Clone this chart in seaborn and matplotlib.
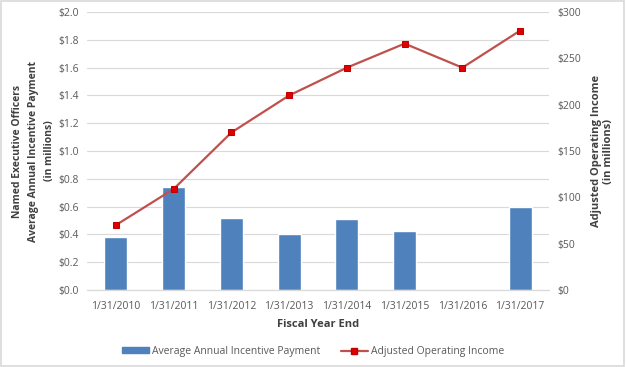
import numpy as np
import matplotlib
matplotlib.use('Agg')
import matplotlib.pyplot as plt
import seaborn as sns
from matplotlib.lines import Line2D
from matplotlib.patches import Patch
from matplotlib.ticker import FuncFormatter, MultipleLocator

# data
fiscal_years = ['1/31/2010', '1/31/2011', '1/31/2012', '1/31/2013',
                '1/31/2014', '1/31/2015', '1/31/2016', '1/31/2017']
incentive_payment = [0.38, 0.74, 0.52, 0.40, 0.51, 0.425, 0.0, 0.60]   # $ millions
operating_income = [70, 109, 170, 210, 240, 266, 240, 280]             # $ millions

sns.set_style('white')
plt.rcParams['font.family'] = ['Open Sans', 'DejaVu Sans']

bar_color = '#4F81BD'
line_color = '#C0504D'
tick_color = '#595959'

fig = plt.figure(figsize=(6.26, 3.67), dpi=100)
ax = fig.add_axes([0.139, 0.21, 0.738, 0.757])

sns.barplot(x=fiscal_years, y=incentive_payment, color=bar_color, width=0.4,
            saturation=1, ax=ax, zorder=2)
ax.set_ylim(0, 2.0)
ax.set_xlim(-0.5, len(fiscal_years) - 0.5)
ax.yaxis.set_major_locator(MultipleLocator(0.2))
ax.yaxis.set_major_formatter(FuncFormatter(lambda v, p: f'${v:.1f}'))
ax.grid(axis='y', color='#D9D9D9', linewidth=0.8, zorder=0)
ax.set_axisbelow(True)

ax2 = ax.twinx()
sns.lineplot(x=np.arange(len(fiscal_years)), y=operating_income, ax=ax2,
             color=line_color, linewidth=1.6, marker='s', markersize=5,
             markerfacecolor='#E00000', markeredgecolor='#C00000', zorder=3)
ax2.set_ylim(0, 300)
ax2.yaxis.set_major_locator(MultipleLocator(50))
ax2.yaxis.set_major_formatter(FuncFormatter(lambda v, p: f'${v:.0f}'))
ax2.set_xlim(-0.5, len(fiscal_years) - 0.5)

for a in (ax, ax2):
    for s in ['top', 'left', 'right']:
        a.spines[s].set_visible(False)
    a.spines['bottom'].set_color('#D9D9D9')
    a.tick_params(axis='y', length=0, labelsize=7.5, labelcolor=tick_color, pad=6)

# excel-style tick marks between categories
ax.tick_params(axis='x', which='major', length=0, labelsize=7.5, labelcolor=tick_color, pad=8)
ax.set_xticks(np.arange(-0.5, len(fiscal_years)), minor=True)
ax.tick_params(axis='x', which='minor', length=4, color='#D9D9D9')

ax.set_xlabel('Fiscal Year End', fontsize=8, fontweight='bold', color='#404040', labelpad=5)
ax.set_ylabel('Named Executive Officers\nAverage Annual Incentive Payment\n(in millions)',
              fontsize=7.5, fontweight='bold', color='#404040', labelpad=2, linespacing=1.65)
ax2.set_ylabel('Adjusted Operating Income\n(in millions)', fontsize=8, fontweight='bold',
               color='#404040', labelpad=7, linespacing=1.2)

handles = [Patch(facecolor=bar_color, edgecolor=bar_color),
           Line2D([0], [0], color=line_color, linewidth=1.6, marker='s', markersize=4,
                  markerfacecolor='#E00000', markeredgecolor='#C00000')]
labels = ['Average Annual Incentive Payment', 'Adjusted Operating Income']
fig.legend(handles, labels, loc='center', bbox_to_anchor=(0.5, 0.042), ncol=2,
           frameon=False, fontsize=7.5, labelcolor=tick_color, handlelength=2.6,
           handleheight=0.5, columnspacing=2.0, handletextpad=0.3)

fig.patches.append(plt.Rectangle((0.002, 0.003), 0.995, 0.994, transform=fig.transFigure,
                                 fill=False, edgecolor='#D9D9D9', linewidth=1.2))

fig.savefig('out.png', dpi=100)
